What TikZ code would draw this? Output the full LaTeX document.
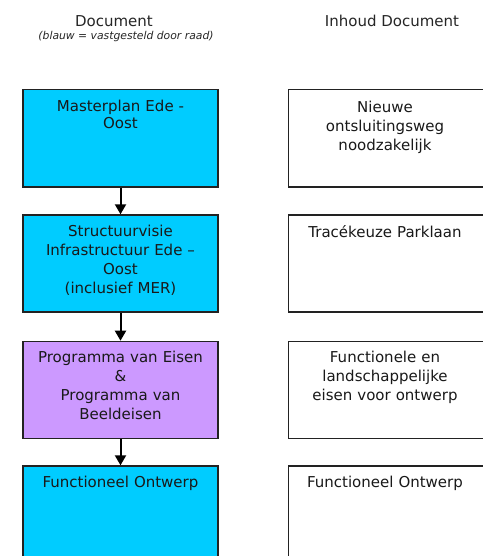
\documentclass[tikz,border=0pt]{standalone}
\usepackage{fontspec}
\setmainfont{DejaVu Sans}
\usetikzlibrary{arrows.meta}
\definecolor{raadblauw}{HTML}{00CCFF}
\definecolor{pvepaars}{HTML}{CC99FF}
\definecolor{rand}{HTML}{222222}
\begin{document}
\begin{tikzpicture}[x=1pt,y=-1pt,
  docbox/.style={draw=rand,line width=1.2pt,minimum width=195pt,minimum height=97pt,inner sep=0pt,anchor=north},
  boxtext/.style={anchor=base,align=center,text width=190pt,inner sep=0pt,font=\fontsize{15}{19}\selectfont,text=black!90},
  header/.style={anchor=base,inner sep=0pt,font=\fontsize{15}{19}\selectfont,text=black!85},
  flow/.style={line width=2pt,-{Triangle[length=10pt,width=11pt]}}]
\useasboundingbox (0,0) rectangle (482,556);
\fill[white] (0,0) rectangle (482,556);

% column headings
\node[header] (hdoc) at (114,26.5) {Document};
\node[anchor=base,inner sep=0pt,font=\fontsize{10.8}{13}\itshape,text=black!85] (hsub) at (126,39.5) {(blauw = vastgesteld door raad)};
\node[header] (hinh) at (392,26.5) {Inhoud Document};

% documents
\node[docbox,fill=raadblauw] (d1) at (120.5,89.3) {};
\node[docbox,fill=raadblauw] (d2) at (120.5,214.3) {};
\node[docbox,fill=pvepaars] (d3) at (120.5,340.7) {};
\node[docbox,fill=raadblauw] (d4) at (120.5,465.3) {};

\node[boxtext,font=\fontsize{15}{17}\selectfont] (t1) at ([yshift=-22.5pt]d1.north) {Masterplan Ede -\\Oost};
\node[boxtext] (t2) at ([yshift=-22.5pt]d2.north) {Structuurvisie\\Infrastructuur Ede –\\Oost\\(inclusief MER)};
\node[boxtext] (t3) at ([yshift=-21.5pt]d3.north) {Programma van Eisen\\\&\\Programma van\\Beeldeisen};
\node[boxtext] (t4) at ([yshift=-22.5pt]d4.north) {Functioneel Ontwerp};

% contents (running on past the right edge)
\node[docbox] (c1) at (386.3,89.3) {};
\node[docbox] (c2) at (386.3,214.3) {};
\node[docbox] (c3) at (386.3,340.7) {};
\node[docbox] (c4) at (386.3,465.3) {};

\node[boxtext] (u1) at (385,112.5) {Nieuwe\\ontsluitingsweg\\noodzakelijk};
\node[boxtext] (u2) at (385,237) {Tracékeuze Parklaan};
\node[boxtext] (u3) at (385,362.5) {Functionele en\\landschappelijke\\eisen voor ontwerp};
\node[boxtext] (u4) at (385,487.8) {Functioneel Ontwerp};

% flow between documents
\draw[flow] (d1.south) -- (d2.north);
\draw[flow] (d2.south) -- (d3.north);
\draw[flow] (d3.south) -- (d4.north);
\end{tikzpicture}
\end{document}
